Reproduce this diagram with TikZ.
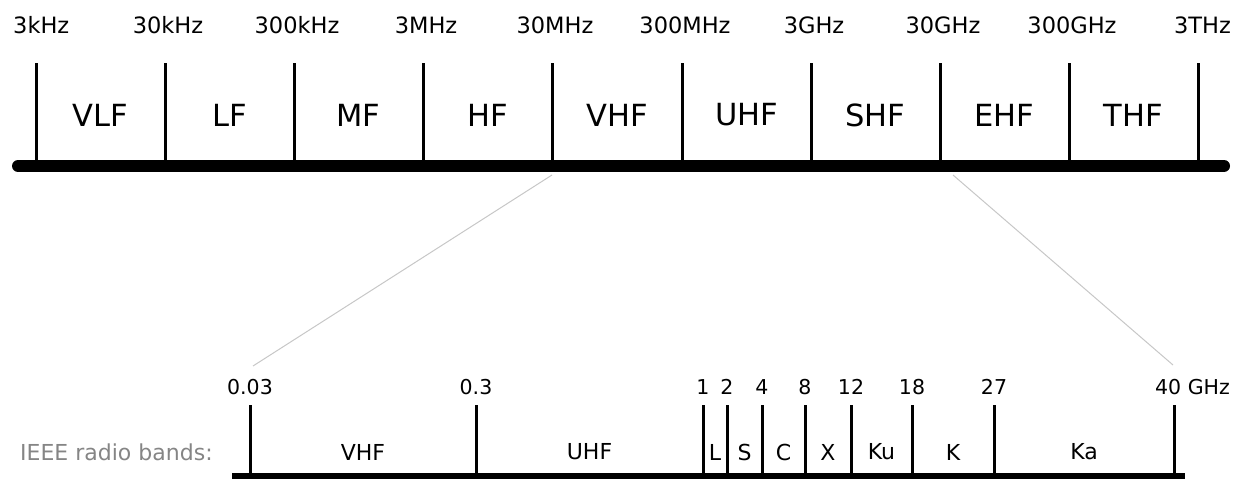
\documentclass[tikz,border=0pt]{standalone}
\usepackage{fontspec}
\setmainfont{DejaVu Sans}

\newcommand{\coordEspectro}{
\coordinate (A) at (36,166);
\coordinate (B) at (165,166);
\coordinate (C) at (294,166);
\coordinate (D) at (423,166);
\coordinate (E) at (552,166);
\coordinate (F) at (682,166);
\coordinate (G) at (811,166);
\coordinate (H) at (940,166);
\coordinate (I) at (1069,166);
\coordinate (J) at (1198,166);
}
\newcommand{\coordIEEE}{
\coordinate (a) at (250,479);
\coordinate (b) at (476,479);
\coordinate (c) at (703,479);
\coordinate (d) at (727,479);
\coordinate (e) at (762,479);
\coordinate (f) at (805,479);
\coordinate (g) at (851,479);
\coordinate (h) at (912,479);
\coordinate (i) at (994,479);
\coordinate (j) at (1174,479);
}
\newcommand{\bandasEspectro}{
\path (A)--node[banda] (nVLF) {VLF}(B);
\path (B)--node[banda] (nLF) {LF}(C);
\path (C)--node[banda] (nMF) {MF}(D);
\path (D)--node[banda] (nHF) {HF}(E);
\path (E)--node[banda] (nVHF) {VHF}(F);
\path (F)--node[banda] (nUHF) {UHF}(G);
\path (G)--node[banda] (nSHF) {SHF}(H);
\path (H)--node[banda] (nEHF) {EHF}(I);
\path (I)--node[banda] (nTHF) {THF}(J);
}
\newcommand{\bandasIEEE}{
\path (a)--node[bandaIEEE] (mVHF) {VHF}(b);
\path (b)--node[bandaIEEE] (mUHF) {UHF}(c);
\path (c)--node[bandaIEEE] (mL) {L}(d);
\path (d)--node[bandaIEEE] (mS) {S}(e);
\path (e)--node[bandaIEEE] (mC) {C}(f);
\path (f)--node[bandaIEEE] (mX) {X}(g);
\path (g)--node[bandaIEEE] (mKu) {Ku}(h);
\path (h)--node[bandaIEEE] (mK) {K}(i);
\path (i)--node[bandaIEEE] (mKa) {Ka}(j);
}
\tikzset{
barra/.style={line width=12pt,line cap=round},
barraIEEE/.style={line width=12pt},
marca/.style={line width=3pt},
rotulo/.style={font=\fontsize{22.5}{27}\selectfont,inner sep=0pt},
banda/.style={font=\fontsize{30.5}{36}\selectfont,inner sep=0pt,yshift=51pt},
rotuloIEEE/.style={font=\fontsize{20.5}{25}\selectfont,inner sep=0pt},
bandaIEEE/.style={font=\fontsize{22}{26}\selectfont,inner sep=0pt,yshift=27pt},
leyenda/.style={font=\fontsize{22}{26}\selectfont,inner sep=0pt,text=black!48},
zoom/.style={black!22,line width=1pt}
}

\begin{document}
\begin{tikzpicture}[x=1pt,y=-1pt]
    \useasboundingbox (0,0) rectangle (1235,479);
    \coordEspectro
    \coordIEEE

    % espectro completo
    \foreach \n in {A,B,C,D,E,F,G,H,I,J}{
    \draw[marca] (\n) -- ++(0,-103);
    }
    \draw[barra] ([xshift=-18pt]A) -- ([xshift=26pt]J);
    \foreach \n/\t in {B/30kHz,C/300kHz,D/3MHz,E/30MHz,F/300MHz,G/3GHz,H/30GHz,I/300GHz}{
    \node[rotulo] (r\n) at ([xshift=3pt]\n |- 0,25) {\t};
    }
    \node[rotulo,anchor=west] (rA) at (13,25) {3kHz};
    \node[rotulo,anchor=east] (rJ) at (1231,25) {3THz};
    \bandasEspectro

    % bandas IEEE
    \foreach \n in {a,b,c,d,e,f,g,h,i,j}{
    \draw[marca] (\n) -- ++(0,-74);
    }
    \draw[barraIEEE] ([xshift=-18pt]a) -- ([xshift=11pt]j);
    \foreach \n/\t in {a/0.03,b/0.3,c/1,d/2,e/4,f/8,g/12,h/18,i/27}{
    \node[rotuloIEEE] (r\n) at (\n |- 0,387) {\t};
    }
    \node[rotuloIEEE,anchor=west] (rj) at (1155,387) {40 GHz};
    \bandasIEEE
    \node[leyenda,anchor=west] (ieee) at (20,452) {IEEE radio bands:};

    % ampliacion
    \coordinate (zA) at (552,175);
    \coordinate (zB) at (953,175);
    \coordinate (za) at (253,366);
    \coordinate (zb) at (1173,365);
    \draw[zoom] (zA) -- (za);
    \draw[zoom] (zB) -- (zb);
\end{tikzpicture}
\end{document}
